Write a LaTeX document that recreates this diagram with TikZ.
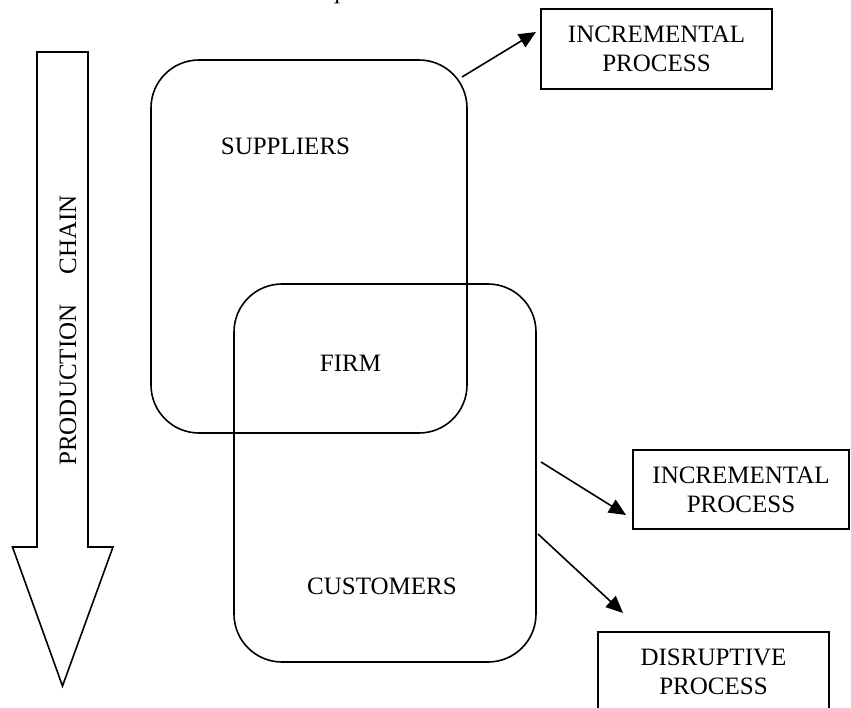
\documentclass[tikz,border=0pt]{standalone}
\usepackage{fontspec}
\setmainfont{Liberation Serif}
\usetikzlibrary{arrows.meta}
\begin{document}
\begin{tikzpicture}[x=1pt,y=-1pt,
  every node/.style={font=\fontsize{25}{29}\selectfont},
  region/.style={draw,line width=1.6pt,rounded corners=48pt,inner sep=0pt},
  procbox/.style={draw,line width=1.6pt,align=center,inner sep=0pt},
  arr/.style={line width=1.6pt,-{Triangle[length=17pt,width=15pt]}},
  bigarrow/.style={draw,line width=1.6pt,line join=miter}]
\useasboundingbox (0,0) rectangle (851,708);
% cut-off caption fragment
\node[anchor=base,inner sep=0pt] (cap) at (342,-1.5) {\itshape p};
% regions
\node[region,minimum width=316pt,minimum height=373pt] (sup) at (309,246.5) {};
\node[region,minimum width=302pt,minimum height=378pt] (cus) at (385,473) {};
\node (supt) at (285.5,146.5) {SUPPLIERS};
\node (firm) at (350.5,363) {FIRM};
\node (cust) at (382,586.5) {CUSTOMERS};
% process boxes
\node[procbox,minimum width=231pt,minimum height=80pt] (inc1) at (656.5,49) {INCREMENTAL\\PROCESS};
\node[procbox,minimum width=216pt,minimum height=79pt] (inc2) at (741,489.5) {INCREMENTAL\\PROCESS};
\node[procbox,minimum width=231pt,minimum height=80pt] (dis) at (713.5,672) {DISRUPTIVE\\PROCESS};
% connectors
\coordinate (s1) at (462,77);
\coordinate (t1) at (536,32);
\coordinate (s2) at (541,462);
\coordinate (t2) at (626,515);
\coordinate (s3) at (538,534);
\coordinate (t3) at (623,613);
\draw[arr] (s1) -- (t1);
\draw[arr] (s2) -- (t2);
\draw[arr] (s3) -- (t3);
% production chain arrow
\draw[bigarrow] (37,52) -- (88,52) -- (88,547) -- (113,547) -- (62.5,686) -- (12.5,547) -- (37,547) -- cycle;
\node[rotate=90] (pc) at (68,330.5) {PRODUCTION\hspace{30pt}CHAIN};
\end{tikzpicture}
\end{document}
